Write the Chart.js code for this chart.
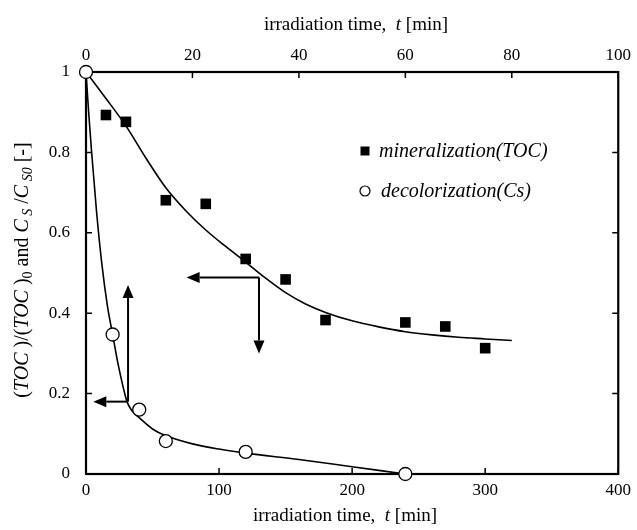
<!DOCTYPE html>
<html>
<head>
<meta charset="utf-8">
<script src="https://cdn.jsdelivr.net/npm/chart.js@4.4.0/dist/chart.umd.min.js"></script>
<style>
  html, body { margin: 0; padding: 0; background: #fff; }
</style>
</head>
<body>
<canvas id="grafico" width="637" height="530"></canvas>
<script>
// mineralization (TOC) - bottom axis, minutes
const tocTempo = [15, 30, 60, 90, 120, 150, 180, 240, 270, 300];
const tocValor = [0.893, 0.876, 0.681, 0.672, 0.535, 0.484, 0.383, 0.377, 0.367, 0.313];
const tocCurvaTempo = [0, 15, 30, 45, 60, 75, 90, 105, 120, 135, 150, 165, 180, 200, 220, 240, 260, 280, 300, 320];
const tocCurvaValor = [1.0, 0.934, 0.866, 0.786, 0.712, 0.655, 0.607, 0.566, 0.527, 0.487, 0.451, 0.423, 0.402, 0.381, 0.366, 0.354, 0.346, 0.340, 0.336, 0.332];

// decolorization (Cs) - top axis, minutes
const csTempo = [0, 5, 10, 15, 30, 60];
const csValor = [1.0, 0.347, 0.160, 0.082, 0.055, 0.0];
const csCurvaTempo = [0, 0.5, 1, 1.5, 2, 3, 4, 5, 6, 7, 7.7, 8.5, 10, 12.5, 15, 20, 25, 30, 40, 50, 60];
const csCurvaValor = [1.0, 0.90, 0.81, 0.73, 0.65, 0.52, 0.42, 0.347, 0.275, 0.215, 0.18, 0.16, 0.14, 0.112, 0.095, 0.075, 0.062, 0.052, 0.036, 0.018, 0.0];

const ticksBaixo = [0, 100, 200, 300, 400];
const ticksTopo = [0, 20, 40, 60, 80, 100];
const ticksY = [0, 0.2, 0.4, 0.6, 0.8, 1];

// arrows, in bottom-axis units: [x1, y1, x2, y2]
const setas = [
  [130, 0.489, 75.6, 0.489],
  [130, 0.489, 130, 0.30],
  [31.6, 0.18, 31.6, 0.47],
  [31.6, 0.18, 5.5, 0.18],
];

const serif = '"Liberation Serif", "Times New Roman", serif';
const fonteTick = { family: serif, size: 17 };

function pares(xs, ys) {
  return xs.map((x, i) => ({ x: x, y: ys[i] }));
}

function desenhaSeta(ctx, x1, y1, x2, y2) {
  const ang = Math.atan2(y2 - y1, x2 - x1);
  const comp = 13, meia = 5.5;
  const bx = x2 - comp * Math.cos(ang), by = y2 - comp * Math.sin(ang);
  ctx.beginPath();
  ctx.moveTo(x1, y1);
  ctx.lineTo(bx, by);
  ctx.stroke();
  ctx.beginPath();
  ctx.moveTo(x2, y2);
  ctx.lineTo(bx + meia * Math.sin(ang), by - meia * Math.cos(ang));
  ctx.lineTo(bx - meia * Math.sin(ang), by + meia * Math.cos(ang));
  ctx.closePath();
  ctx.fill();
}

function linhaRica(ctx, partes, cx, cy, tam, tamSub) {
  let total = 0;
  partes.forEach(p => {
    ctx.font = p.f + ' ' + (p.sub ? tamSub : tam) + 'px ' + serif;
    p.w = ctx.measureText(p.t).width;
    total += p.w;
  });
  let x = cx - total / 2;
  ctx.textAlign = 'left';
  ctx.textBaseline = 'middle';
  partes.forEach(p => {
    ctx.font = p.f + ' ' + (p.sub ? tamSub : tam) + 'px ' + serif;
    ctx.fillText(p.t, x, cy + (p.sub ? 5 : 0));
    x += p.w;
  });
}

// frame and inward ticks (under the points)
const moldura = {
  id: 'moldura',
  beforeDatasetsDraw(chart) {
    const ctx = chart.ctx;
    const a = chart.chartArea;
    const sx = chart.scales.x, sx2 = chart.scales.x2, sy = chart.scales.y;
    ctx.save();
    ctx.strokeStyle = '#000';
    ctx.lineWidth = 1.5;
    const tl = 6;
    ctx.beginPath();
    ticksBaixo.forEach(v => { const p = sx.getPixelForValue(v); ctx.moveTo(p, a.bottom); ctx.lineTo(p, a.bottom - tl); });
    ticksTopo.forEach(v => { const p = sx2.getPixelForValue(v); ctx.moveTo(p, a.top); ctx.lineTo(p, a.top + tl); });
    ticksY.forEach(v => {
      const p = sy.getPixelForValue(v);
      ctx.moveTo(a.left, p); ctx.lineTo(a.left + tl, p);
      ctx.moveTo(a.right, p); ctx.lineTo(a.right - tl, p);
    });
    ctx.stroke();
    ctx.lineWidth = 2.2;
    ctx.strokeRect(a.left, a.top, a.right - a.left, a.bottom - a.top);
    ctx.restore();
  }
};

// titles, legend and arrows
const decoracao = {
  id: 'decoracao',
  afterDraw(chart) {
    const ctx = chart.ctx;
    const sx = chart.scales.x, sy = chart.scales.y;
    ctx.save();
    ctx.strokeStyle = '#000';
    ctx.fillStyle = '#000';

    ctx.lineWidth = 2;
    setas.forEach(s => {
      desenhaSeta(ctx, sx.getPixelForValue(s[0]), sy.getPixelForValue(s[1]),
        sx.getPixelForValue(s[2]), sy.getPixelForValue(s[3]));
    });

    const partesX = [
      { t: 'irradiation time,  ', f: 'normal' },
      { t: 't', f: 'italic' },
      { t: ' [min]', f: 'normal' },
    ];
    linhaRica(ctx, partesX, 345, 516, 19, 13);
    linhaRica(ctx, partesX, 356, 25, 19, 13);

    ctx.save();
    ctx.translate(23, 270);
    ctx.rotate(-Math.PI / 2);
    linhaRica(ctx, [
      { t: '(', f: 'normal' },
      { t: 'TOC', f: 'italic' },
      { t: ' )/(', f: 'normal' },
      { t: 'TOC', f: 'italic' },
      { t: ' )', f: 'normal' },
      { t: '0', f: 'normal', sub: true },
      { t: ' and ', f: 'normal' },
      { t: 'C', f: 'italic' },
      { t: ' S', f: 'italic', sub: true },
      { t: ' /', f: 'normal' },
      { t: 'C', f: 'italic' },
      { t: ' S0', f: 'italic', sub: true },
      { t: ' [-]', f: 'normal' },
    ], 0, 0, 20, 14);
    ctx.restore();

    // legend
    ctx.fillRect(365 - 4.5, 151 - 4.5, 9, 9);
    ctx.beginPath();
    ctx.lineWidth = 1.2;
    ctx.arc(365, 191, 5, 0, Math.PI * 2);
    ctx.stroke();
    ctx.font = 'italic 20px ' + serif;
    ctx.textAlign = 'left';
    ctx.textBaseline = 'middle';
    ctx.fillText('mineralization(TOC)', 379, 152);
    ctx.fillText('decolorization(Cs)', 381, 192);

    ctx.restore();
  }
};

new Chart(document.getElementById('grafico'), {
  type: 'scatter',
  data: {
    datasets: [
      {
        label: 'decolorization(Cs)',
        data: pares(csTempo, csValor),
        xAxisID: 'x2',
        pointStyle: 'circle',
        pointRadius: 6.5,
        pointBorderWidth: 1.3,
        pointBackgroundColor: '#fff',
        pointBorderColor: '#000',
        showLine: false,
        clip: false,
        order: 0,
      },
      {
        label: 'mineralization(TOC)',
        data: pares(tocTempo, tocValor),
        xAxisID: 'x',
        pointStyle: 'rect',
        pointRadius: 7.5,
        pointBorderWidth: 0,
        pointBackgroundColor: '#000',
        pointBorderColor: '#000',
        showLine: false,
        clip: false,
        order: 1,
      },
      {
        label: 'curva TOC',
        data: pares(tocCurvaTempo, tocCurvaValor),
        xAxisID: 'x',
        showLine: true,
        pointRadius: 0,
        borderColor: '#000',
        borderWidth: 1.6,
        cubicInterpolationMode: 'monotone',
        order: 2,
      },
      {
        label: 'curva Cs',
        data: pares(csCurvaTempo, csCurvaValor),
        xAxisID: 'x2',
        showLine: true,
        pointRadius: 0,
        borderColor: '#000',
        borderWidth: 1.6,
        cubicInterpolationMode: 'monotone',
        order: 2,
      },
    ],
  },
  options: {
    responsive: false,
    animation: false,
    layout: { padding: 0 },
    plugins: { legend: { display: false }, tooltip: { enabled: false } },
    scales: {
      x: {
        type: 'linear', position: 'bottom', min: 0, max: 400,
        afterBuildTicks: s => { s.ticks = ticksBaixo.map(v => ({ value: v })); },
        ticks: { font: fonteTick, color: '#000', padding: 6 },
        grid: { display: false, drawTicks: false },
        border: { display: false },
        afterFit: s => { s.height = 56; },
      },
      x2: {
        type: 'linear', position: 'top', min: 0, max: 100,
        afterBuildTicks: s => { s.ticks = ticksTopo.map(v => ({ value: v })); },
        ticks: { font: fonteTick, color: '#000', padding: 6 },
        grid: { display: false, drawTicks: false },
        border: { display: false },
        afterFit: s => { s.height = 72; },
      },
      y: {
        type: 'linear', position: 'left', min: 0, max: 1,
        afterBuildTicks: s => { s.ticks = ticksY.map(v => ({ value: v })); },
        ticks: { font: fonteTick, color: '#000', padding: 16, callback: v => String(v) },
        grid: { display: false, drawTicks: false },
        border: { display: false },
        afterFit: s => { s.width = 86; },
      },
      y2: {
        type: 'linear', position: 'right', min: 0, max: 1,
        ticks: { display: false },
        grid: { display: false, drawTicks: false },
        border: { display: false },
        afterFit: s => { s.width = 15; },
      },
    },
  },
  plugins: [moldura, decoracao],
});
</script>
</body>
</html>
